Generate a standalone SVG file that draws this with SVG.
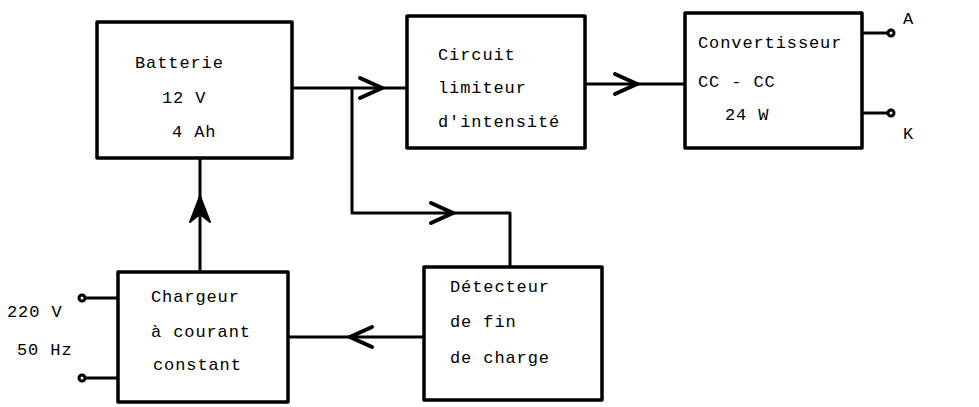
<svg xmlns="http://www.w3.org/2000/svg" width="979" height="407" viewBox="0 0 979 407">
<style>
.box{fill:#fff;stroke:#000;stroke-width:3.5;stroke-linejoin:round}
.ln{fill:none;stroke:#000;stroke-width:3;stroke-linejoin:round}
.chev{fill:none;stroke:#000;stroke-width:4;stroke-linecap:round;stroke-linejoin:miter}
.term{fill:#fff;stroke:#000;stroke-width:3}
text{font-family:"Liberation Mono","DejaVu Sans Mono",monospace;font-size:17px;letter-spacing:0.9px;fill:#000}
</style>
<defs>
<path id="chev" class="chev" d="M-22,-10 L0,0 L-22,10"/>
</defs>
<rect width="979" height="407" fill="#fff"/>
<g id="connectors">
<path class="ln" d="M292,88 H407"/>
<path class="ln" d="M585,84 H685"/>
<path class="ln" d="M352,88 V213 H510 V267"/>
<path class="ln" d="M424,337 H288"/>
<path class="ln" d="M200,272 V158"/>
<path class="ln" d="M862,33 H889"/>
<path class="ln" d="M862,113 H889"/>
<path class="ln" d="M118,298 H84"/>
<path class="ln" d="M118,378 H84"/>
<use href="#chev" transform="translate(382,88)"/>
<use href="#chev" transform="translate(637,84)"/>
<use href="#chev" transform="translate(453,213)"/>
<use href="#chev" transform="translate(350,337) rotate(180)"/>
<path d="M200,196 L190,222 L200,214 L210,222 Z" fill="#000" stroke="#000" stroke-width="2" stroke-linejoin="round"/>
<circle class="term" cx="891" cy="33" r="3"/>
<circle class="term" cx="891" cy="113" r="3"/>
<circle class="term" cx="82" cy="298" r="3"/>
<circle class="term" cx="82" cy="378" r="3"/>
</g>
<g id="batterie">
<rect class="box" x="97" y="22" width="195" height="136"/>
<text x="135" y="68">Batterie</text>
<text x="162" y="103">12 V</text>
<text x="172" y="137">4 Ah</text>
</g>
<g id="circuit">
<rect class="box" x="407" y="16" width="178" height="132"/>
<text x="438" y="60">Circuit</text>
<text x="438" y="93">limiteur</text>
<text x="438" y="127">d'intensité</text>
</g>
<g id="convertisseur">
<rect class="box" x="685" y="13" width="177" height="135"/>
<text x="698" y="48">Convertisseur</text>
<text x="698" y="87">CC - CC</text>
<text x="725" y="120">24 W</text>
</g>
<g id="chargeur">
<rect class="box" x="118" y="272" width="170" height="130"/>
<text x="151" y="302">Chargeur</text>
<text x="151" y="337">à courant</text>
<text x="153" y="370">constant</text>
</g>
<g id="detecteur">
<rect class="box" x="424" y="267" width="178" height="133"/>
<text x="450" y="292">Détecteur</text>
<text x="450" y="327">de fin</text>
<text x="450" y="363">de charge</text>
</g>
<g id="labels">
<text x="903" y="24">A</text>
<text x="903" y="139">K</text>
<text x="7" y="317">220 V</text>
<text x="17" y="355">50 Hz</text>
</g>
</svg>
